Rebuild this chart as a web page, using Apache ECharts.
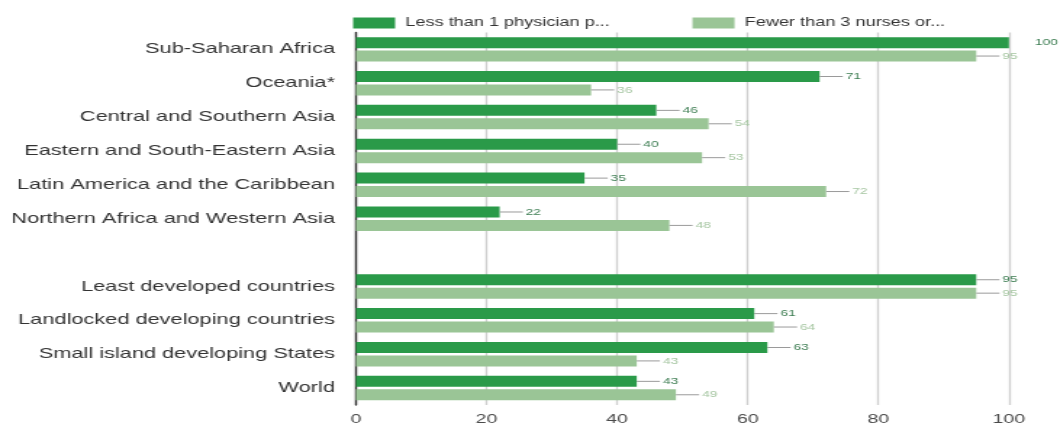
<!DOCTYPE html>
<html><head><meta charset="utf-8">
<script src="https://cdn.jsdelivr.net/npm/echarts@6/dist/echarts.min.js"></script>
<style>
html,body{margin:0;padding:0;background:#fff;overflow:hidden;width:1060px;height:426px}
#c{width:731px;height:426px;transform:scaleX(1.45);transform-origin:0 0}
</style>
</head><body><div id="c"></div>
<script>
const categories = ['Sub-Saharan Africa','Oceania*','Central and Southern Asia','Eastern and South-Eastern Asia','Latin America and the Caribbean','Northern Africa and Western Asia','','Least developed countries','Landlocked developing countries','Small island developing States','World'];
const physicians = [100, 71, 46, 40, 35, 22, null, 95, 61, 63, 43];
const nurses = [95, 36, 54, 53, 72, 48, null, 95, 64, 43, 49];
const seriesNames = ['Less than 1 physician per 1,000 population','Fewer than 3 nurses or midwives per 1,000 population'];
const legendShown = ['Less than 1 physician p...','Fewer than 3 nurses or...'];
const xTicks = [0, 20, 40, 60, 80, 100];

const chart = echarts.init(document.getElementById('c'));
function lbl(color){
  return {show:true, position:'right', distance:0, formatter:'{l| }{v|{c}}',
    rich:{l:{width:16,height:1,backgroundColor:'#9a9a9a'}, v:{color:color,fontSize:9.5,fontFamily:'Liberation Sans',padding:[0,0,0,2]}}};
}
function withLabelTweaks(arr){
  return arr.map(v => v === 100 ? {value:v,label:{rich:{l:{width:16,height:1,backgroundColor:'transparent'}}}} : v);
}
chart.setOption({
  animation:false,
  textStyle:{fontFamily:'Liberation Sans'},
  legend:{top:16.5,left:243.5,padding:0,icon:'rect',itemWidth:29,itemHeight:11,itemGap:57,
    textStyle:{fontSize:12.5,color:'#333',fontFamily:'Liberation Sans',padding:[0,0,0,2]},
    formatter:n=>legendShown[seriesNames.indexOf(n)],
    data:seriesNames},
  grid:{left:245.5,right:35.2,top:32.4,bottom:18,containLabel:false},
  xAxis:{type:'value',min:0,max:100,interval:20,
    axisLine:{show:false},axisTick:{show:false},
    axisLabel:{fontSize:13.5,color:'#4a4a4a',margin:7,formatter:v=>xTicks.includes(v)?String(v):''},
    splitLine:{lineStyle:{color:'#d0d0d0',width:1.4}}},
  yAxis:{type:'category',data:categories,inverse:true,
    axisLine:{lineStyle:{color:'#333',width:1.4}},axisTick:{show:false},
    axisLabel:{fontSize:15,color:'#333',margin:14.5}},
  series:[
    {name:seriesNames[0],type:'bar',data:withLabelTweaks(physicians),barWidth:11,barGap:'22%',
     itemStyle:{color:'#2a9a49'},label:lbl('#3d7d52')},
    {name:seriesNames[1],type:'bar',data:nurses,barWidth:11,
     itemStyle:{color:'#9ac596'},label:lbl('#a6c6a2')}
  ]
});
</script></body></html>
